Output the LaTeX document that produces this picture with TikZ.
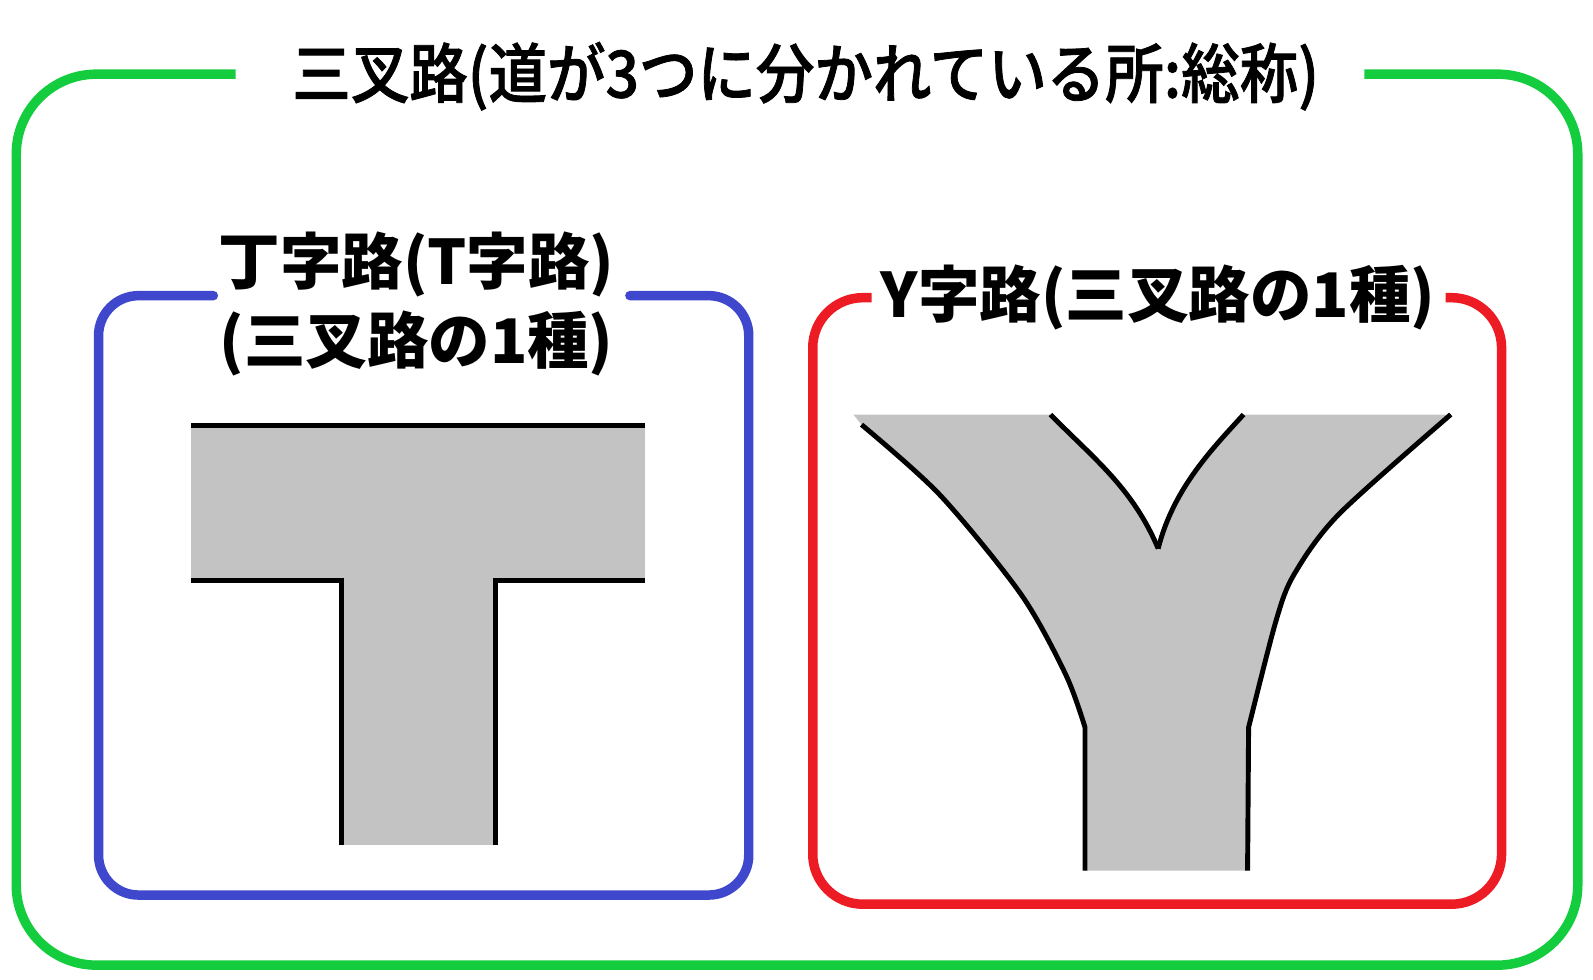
\documentclass[tikz,border=0pt]{standalone}
\usepackage{fontspec}
\setmainfont{Noto Sans CJK JP}
\newfontfamily\titlefont{Noto Sans CJK JP Medium}[FakeStretch=0.9,FakeBold=1.2]
\usetikzlibrary{calc}
\definecolor{framegreen}{RGB}{20,205,62}
\definecolor{frameblue}{RGB}{63,72,204}
\definecolor{framered}{RGB}{237,28,36}
\definecolor{roadgray}{RGB}{195,195,195}

\begin{document}
\begin{tikzpicture}[x=0.02032cm,y=-0.02032cm,line width=5.4pt,
	rim/.style={black,line width=2.8pt},
	heading/.style={inner sep=0pt,align=center}]
			\useasboundingbox (0,0) rectangle (1568,964.6);
			% % % % % % % % % % % % % % %
			%外枠(緑)
			\coordinate (G1) at (232,73);
			\coordinate (G2) at (1343,73);
			\draw[framegreen,rounded corners=1.6cm] (G1) -- (16,73) -- (16,950) -- (1553,950) -- (1553,73) -- (G2);
			\node[heading,font=\titlefont\fontsize{37}{44}\selectfont] (title) at (793,75) {三叉路(道が3つに分かれている所:総称)};
			%丁字路の枠(青)
			\coordinate (B1) at (210,291);
			\coordinate (B2) at (620,291);
			\draw[frameblue,line cap=round,rounded corners=0.8cm] (B1) -- (97,291) -- (97,881) -- (737,881) -- (737,291) -- (B2);
			\node[heading,font=\bfseries\fontsize{35}{45}\selectfont] (tlabel) at (410,299) {丁字路(T字路)\\(三叉路の1種)};
			%Y字路の枠(赤)
			\coordinate (R1) at (858,293);
			\coordinate (R2) at (1423,293);
			\draw[framered,rounded corners=1cm] (R1) -- (800,293) -- (800,890) -- (1478,890) -- (1478,293) -- (R2);
			\node[heading,font=\bfseries\fontsize{35}{45}\selectfont] (ylabel) at (1140,293) {Y字路(三叉路の1種)};
			%T
			\fill[roadgray] (188,419) rectangle (635,572);
			\fill[roadgray] (336,570) rectangle (488,832);
			\draw[rim] (188,419) -- (635,419);
			\draw[rim] (188,571) -- (336,571) -- (336,832);
			\draw[rim] (635,571) -- (488,571) -- (488,832);
			%Y
			\fill[roadgray] (840,408) -- plot[smooth] coordinates {(848,418) (925,487) (1005,585) (1049,664) (1068,716)}
				-- (1068,857) -- (1228,857) -- plot[smooth] coordinates {(1229,716) (1256,611) (1274,565) (1318,506) (1428,408)}
				-- (1224,408) .. controls (1195,440) and (1155,480) .. (1140,540)
				.. controls (1115,480) and (1075,450) .. (1034,408) -- cycle;
			\draw[rim] plot[smooth] coordinates {(848,418) (925,487) (1005,585) (1049,664) (1068,716)} -- (1068,857);
			\draw[rim] plot[smooth] coordinates {(1428,408) (1318,506) (1274,565) (1256,611) (1229,716)} -- (1228,857);
			\draw[rim] (1034,408) .. controls (1075,450) and (1115,480) .. (1140,540);
			\draw[rim] (1140,540) .. controls (1155,480) and (1195,440) .. (1224,408);
		\end{tikzpicture}
\end{document}
